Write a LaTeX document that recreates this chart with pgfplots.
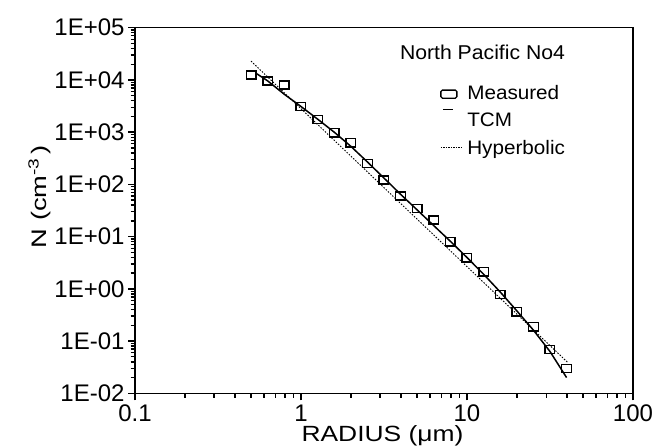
\documentclass[border=0pt]{standalone}
\usepackage{fontspec}
\setmainfont{Liberation Sans}
\newfontfamily\labfont[FakeStretch=1.2]{Liberation Sans}
\newfontfamily\ylabfont[FakeStretch=1.3]{Liberation Sans}
\newfontfamily\legfont[FakeStretch=1.06]{Liberation Sans}
\usepackage{pgfplots}
\pgfplotsset{compat=1.18}
\pgfplotstableread{
r N
0.5 12400
0.631 9500
0.794 8000
1.0 3070
1.259 1760
1.585 975
1.995 627
2.512 252
3.162 121
3.981 59.7
5.012 34.7
6.310 20.7
7.943 7.94
10.0 3.93
12.59 2.12
15.85 0.78
19.95 0.363
25.12 0.187
31.62 0.069
39.81 0.0299
}\measured
\pgfplotstableread{
r N
0.54 13200
0.631 9550
0.794 5300
1.0 3100
1.259 1778
1.585 1000
1.995 537
2.512 269
3.162 132
3.981 64.6
5.012 32.4
6.310 16.2
7.943 8.13
10.0 3.98
12.59 1.905
15.85 0.871
19.95 0.380
25.12 0.162
31.62 0.0631
39.81 0.0200
}\tcm
\pgfplotstableread{
r N
0.5 22900
40.7 0.0382
}\hyper
\begin{document}
\begin{tikzpicture}
\begin{axis}[
 at={(0,0)}, anchor=south west,
 scale only axis, width=498bp, height=365.6bp,
 xmode=log, ymode=log,
 xmin=0.1, xmax=100, ymin=1e-2, ymax=1e5,
 clip=false,
 axis line style={line width=1.5bp},
 tick pos=left, tick align=outside,
 major tick length=7bp, minor tick length=4.5bp,
 every tick/.append style={draw=black, line width=1.4bp},
 xtick={0.1,1,10,100}, xticklabels={0.1,1,10,100},
 minor xtick={0.2,0.3,0.4,0.5,0.6,0.7,0.8,0.9,2,3,4,5,6,7,8,9,20,30,40,50,60,70,80,90},
 ytick={1e-2,1e-1,1,10,100,1000,1e4,1e5},
 yticklabels={1E-02,1E-01,1E+00,1E+01,1E+02,1E+03,1E+04,1E+05},
 minor ytick={0.02,0.03,0.04,0.05,0.06,0.07,0.08,0.09,
   0.2,0.3,0.4,0.5,0.6,0.7,0.8,0.9,2,3,4,5,6,7,8,9,
   20,30,40,50,60,70,80,90,200,300,400,500,600,700,800,900,
   2000,3000,4000,5000,6000,7000,8000,9000,20000,30000,40000,50000,60000,70000,80000,90000},
 tick label style={font=\fontsize{24bp}{28bp}\selectfont},
 xticklabel style={yshift=-1bp},
 xlabel={RADIUS (μm)},
 xlabel style={font=\labfont\fontsize{22bp}{26bp}\selectfont, at={(axis description cs:0.497,-0.1318)}, anchor=base},
]
\addplot[black, line width=1.5bp] table[x=r,y=N]{\tcm};
\addplot[black, line width=0.9bp, dash pattern=on 1.5bp off 1.5bp] table[x=r,y=N]{\hyper};
\addplot[only marks, mark=square, mark size=4.8bp, mark options={line width=1.4bp, black, yscale=0.85}] table[x=r,y=N]{\measured};
\end{axis}
\begin{axis}[
 at={(0,0)}, anchor=south west,
 scale only axis, width=498bp, height=365.6bp,
 xmode=log, ymode=log,
 xmin=0.1, xmax=100, ymin=1e-2, ymax=1e5,
 hide axis, clip=false,
 legend style={at={(axis description cs:0.6125,0.8475)}, anchor=north west,
   draw=none, fill=none, inner sep=0pt, row sep=6.5bp,
   font=\legfont\fontsize{19.5bp}{23bp}\selectfont,
   nodes={inner xsep=4bp, inner ysep=1.5bp, text height=14bp, text depth=4bp}},
 legend cell align=left,
]
\addlegendimage{legend image code/.code={\path[draw=none] (0bp,-6bp) rectangle (22bp,6bp); \draw[black, line width=1.3bp, rounded corners=1.5bp] (0bp,-4bp) rectangle (16bp,4bp);}}
\addlegendentry{Measured}
\addlegendimage{legend image code/.code={\path[draw=none] (0bp,-6bp) rectangle (22bp,6bp); \draw[overlay, black, line width=1.5bp] (2bp,12bp) -- (12bp,12bp);}}
\addlegendentry{TCM}
\addlegendimage{legend image code/.code={\path[draw=none] (0bp,-6bp) rectangle (22bp,6bp); \draw[black, line width=0.9bp, dash pattern=on 1.2bp off 1.3bp] (0bp,2bp) -- (22bp,2bp);}}
\addlegendentry{Hyperbolic}
\node[anchor=base, font=\legfont\fontsize{20bp}{24bp}\selectfont] at (axis description cs:0.6978,0.9117) {North Pacific No4};
\node[rotate=90, anchor=base, font=\ylabfont\fontsize{21bp}{25bp}\selectfont] at (axis description cs:-0.1787,0.537) {N (cm\textsuperscript{-3}\hspace{3bp})};
\end{axis}
\pgfresetboundingbox
\path[use as bounding box] (-135bp,-54.7bp) rectangle (518bp,393.3bp);
\end{tikzpicture}
\end{document}
